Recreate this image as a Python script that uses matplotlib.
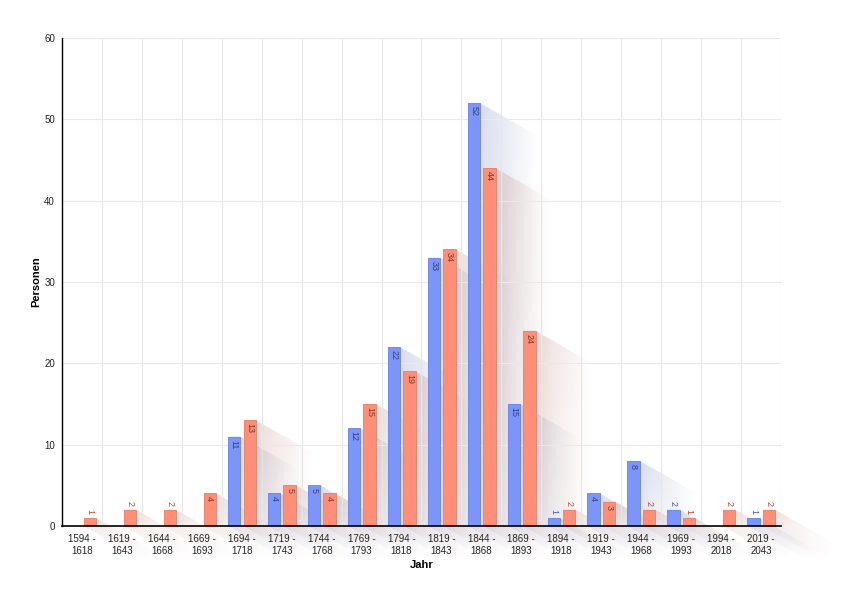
import matplotlib
matplotlib.use("Agg")
import matplotlib.pyplot as plt
from matplotlib.patches import Polygon
from matplotlib.colors import to_rgb
import numpy as np

plt.rcParams['font.family'] = ['Liberation Sans', 'DejaVu Sans']

categories = ["1594 -\n1618", "1619 -\n1643", "1644 -\n1668", "1669 -\n1693", "1694 -\n1718",
              "1719 -\n1743", "1744 -\n1768", "1769 -\n1793", "1794 -\n1818", "1819 -\n1843",
              "1844 -\n1868", "1869 -\n1893", "1894 -\n1918", "1919 -\n1943", "1944 -\n1968",
              "1969 -\n1993", "1994 -\n2018", "2019 -\n2043"]
series_blue = [0, 0, 0, 0, 11, 4, 5, 12, 22, 33, 52, 15, 1, 4, 8, 2, 0, 1]
series_orange = [1, 2, 2, 4, 13, 5, 4, 15, 19, 34, 44, 24, 2, 3, 2, 1, 2, 2]

W, H = 850, 601
fig = plt.figure(figsize=(W / 100, H / 100), dpi=100)
L, R, T, B = 62, 781, 38, 526
ax = fig.add_axes([L / W, (H - B) / H, (R - L) / W, (B - T) / H])

n = len(categories)
blue = "#7b96f8"
orange = "#fd8f78"
blue_edge = "#6a84e6"
orange_edge = "#e88068"

bw = 0.31
centers = np.arange(n) + 0.5
xb = centers - 0.19
xo = centers + 0.2

px_x = n / (R - L)
px_y = 60 / (B - T)


def shadow(x0, h, color, a0=0.24):
    if h <= 0:
        return
    xl, xr = x0 - bw / 2, x0 + bw / 2
    D = 58
    DX = D * px_x
    DY = D * 0.57 * px_y
    verts = [(xl, h), (xr, h), (xr + DX, h - DY), (xr + DX, -DY), (xl + DX, -DY), (xl, 0)]
    poly = Polygon(verts, closed=True, facecolor='none', edgecolor='none', transform=ax.transData)
    nx, ny = 80, max(40, int(h * 4))
    xs = np.linspace(xl, xr + DX, nx)
    ys = np.linspace(-DY, h, ny)
    X, Y = np.meshgrid(xs, ys)
    t = np.maximum(np.maximum((X - xr) / DX, -Y / DY), 0)
    fade = np.clip(1 - t, 0, 1)
    vert = 0.55 + 0.45 * np.clip(Y / h, 0, 1)
    rgba = np.zeros((ny, nx, 4))
    rgba[..., :3] = to_rgb(color)
    rgba[..., 3] = a0 * fade * vert
    im = ax.imshow(rgba, extent=[xl, xr + DX, -DY, h], origin='lower', aspect='auto',
                   interpolation='bilinear', zorder=1)
    im.set_clip_box(fig.bbox)
    im.set_clip_path(poly)


for x0, h in zip(xb, series_blue):
    shadow(x0, h, "#6070b0")
for x0, h in zip(xo, series_orange):
    shadow(x0, h, "#b07060")

ax.bar(xb, series_blue, width=bw, color=blue, edgecolor=blue_edge, linewidth=0.6, zorder=3)
ax.bar(xo, series_orange, width=bw, color=orange, edgecolor=orange_edge, linewidth=0.6, zorder=3)


def labels(xs, vals, inner_col, outer_col):
    for x0, v in zip(xs, vals):
        if v <= 0:
            continue
        if v >= 3:
            ax.text(x0, v - 3 * px_y, str(v), rotation=-90, ha='center', va='top',
                    fontsize=6.5, color=inner_col, zorder=4)
        else:
            ax.text(x0, v + 4 * px_y, str(v), rotation=-90, ha='center', va='bottom',
                    fontsize=6.5, color=outer_col, zorder=4)


labels(xb, series_blue, "#34407a", "#3a55c8")
labels(xo, series_orange, "#7a3a2e", "#c8402a")

ax.set_xticks(centers)
ax.set_xticklabels(categories, fontsize=7, color="#222222")
ax.set_yticks(np.arange(0, 61, 10))
ax.tick_params(axis='y', labelsize=7, length=0, pad=5, colors="#222222")
ax.tick_params(axis='x', length=0, pad=6)

for i in range(n + 1):
    ax.axvline(i, color="#e6e6e6", linewidth=0.8, zorder=2)
for y in range(10, 61, 10):
    ax.axhline(y, color="#e9e9e9", linewidth=0.8, zorder=2)

ax.set_xlim(0, n)
ax.set_ylim(0, 60)

for s in ['top', 'right']:
    ax.spines[s].set_visible(False)
ax.spines['left'].set_color('black')
ax.spines['bottom'].set_color('black')
ax.spines['left'].set_linewidth(1.0)
ax.spines['bottom'].set_linewidth(1.2)
ax.spines['left'].set_zorder(5)
ax.spines['bottom'].set_zorder(5)

ax.set_ylabel("Personen", fontsize=8, fontweight='bold', labelpad=2)
ax.set_xlabel("Jahr", fontsize=8, fontweight='bold', labelpad=3)

fig.savefig("out.png", dpi=100, facecolor='white')
